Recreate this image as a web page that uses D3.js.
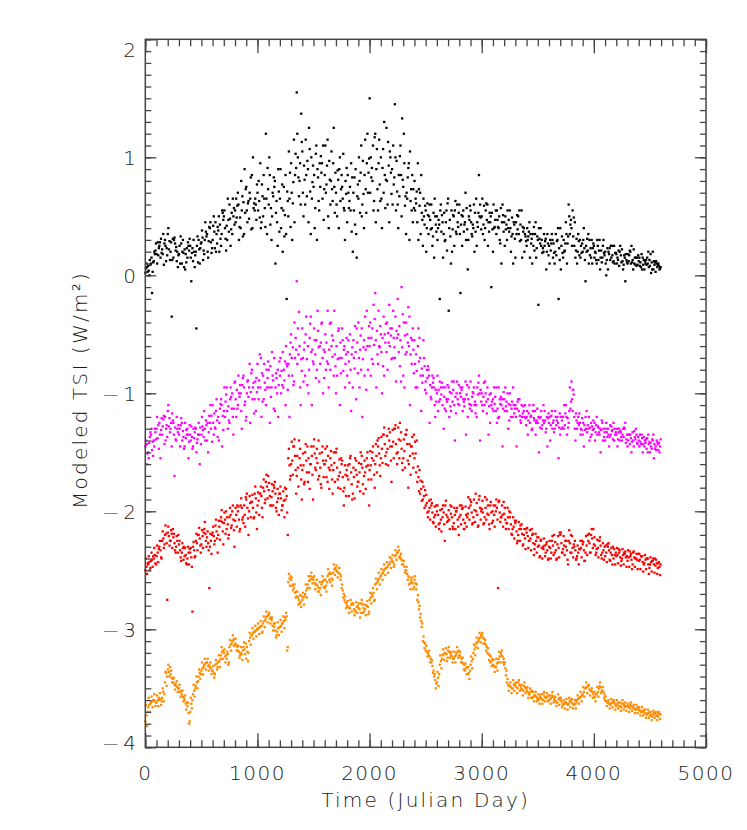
<!DOCTYPE html>
<html><head><meta charset="utf-8">
<script src="https://cdn.jsdelivr.net/npm/d3@7"></script>
<style>
body{margin:0;background:#fff;}
text{font-family:"DejaVu Sans",sans-serif;font-weight:200;fill:#1a1a1a;}
</style></head>
<body>
<svg id="chart" width="747" height="830"></svg>
<script>
// ---- data (Julian day sampled every 25 days, values in W/m^2) ----
const stepDays = 25;
const xTicks = [0, 1000, 2000, 3000, 4000, 5000];
const yTicks = [-4, -3, -2, -1, 0, 1, 2];
const xLabel = "Time (Julian Day)";
const yLabel = "Modeled TSI (W/m²)";

const blackA = [
0.02,0.08,0.10,0.12,0.18,0.25,0.22,0.30,
0.35,0.20,0.15,0.24,0.18,0.10,0.22,0.15,
0.25,0.12,0.20,0.30,0.28,0.18,0.35,0.40,
0.30,0.45,0.38,0.25,0.50,0.42,0.60,0.35,
0.55,0.70,0.40,0.62,0.75,0.48,0.85,0.55,
0.70,0.95,0.50,1.20,0.60,0.30,0.75,0.45,
0.65,0.20,0.85,0.50,0.95,1.15,1.55,0.80,
1.05,0.60,0.90,0.35,0.75,1.10,0.55,0.95,
0.85,1.15,0.60,0.95,0.70,0.40,0.85,0.55,
0.45,0.75,0.20,0.90,0.65,1.10,0.40,0.95,
1.50,0.80,1.20,0.55,1.00,0.70,1.25,0.45,
0.90,1.45,0.60,1.10,0.75,0.35,0.95,0.55,
0.80,0.45,0.70,0.25,0.55,0.35,0.60,0.15,
0.50,-0.20,0.45,0.30,0.65,0.10,0.50,0.35,
0.60,0.25,0.45,0.05,0.55,0.40,0.65,0.85,
0.50,0.30,0.60,0.45,0.20,0.55,0.40,0.10,
0.45,0.30,0.55,0.35,0.15,0.50,0.30,0.40,
0.25,0.45,0.10,0.35,0.30,0.40,0.20,0.05,
0.25,0.35,0.10,0.30,0.40,0.15,0.45,0.60,
0.40,0.25,0.10,0.30,0.20,-0.05,0.35,0.15,
0.25,0.10,0.30,0.15,0.20,0.05,0.25,0.12,
0.18,0.08,0.22,0.15,0.10,0.20,0.05,0.15,
0.12,0.18,0.05,0.15,0.08,0.20,0.03,0.10];
const blackB = [
0.06,0.04,0.15,0.20,0.10,0.28,0.18,0.25,
0.40,0.28,0.30,0.12,0.25,0.20,0.05,0.28,
0.15,0.30,-0.45,0.22,0.38,0.30,0.20,0.45,
0.42,0.20,0.50,0.35,0.55,0.30,0.48,0.65,
0.45,0.60,0.80,0.35,0.55,0.70,0.40,0.65,
0.55,0.40,0.85,0.65,1.00,0.50,0.80,0.25,
0.90,0.55,0.35,1.05,0.70,0.45,1.20,0.95,
0.70,1.15,0.45,1.00,0.85,0.30,0.95,0.65,
1.10,0.50,0.80,1.25,0.60,0.90,0.75,0.30,
0.85,0.55,0.70,0.35,1.00,0.50,0.85,1.20,
0.70,1.10,0.45,0.95,0.65,1.30,0.80,1.05,
0.60,1.00,0.40,0.85,1.20,0.70,0.30,0.85,
0.55,0.95,0.35,0.65,0.20,0.50,0.40,0.65,
0.30,0.55,0.15,0.45,-0.30,0.55,0.25,0.60,
0.35,0.50,0.70,0.30,0.45,0.60,0.25,0.50,
0.65,0.40,0.25,0.50,0.60,0.35,0.50,0.45,
0.25,0.55,0.40,0.10,0.45,0.35,0.55,0.20,
0.40,0.15,0.35,0.45,-0.25,0.25,0.35,0.20,
0.10,0.30,0.20,0.40,0.05,0.30,0.35,0.50,
0.25,0.45,0.20,0.15,0.30,0.25,0.10,0.30,
0.15,0.30,0.05,0.25,0.10,0.20,0.15,0.25,
0.10,0.20,0.12,-0.05,0.18,0.10,0.22,0.08,
0.15,0.05,0.12,0.10,0.18,0.05,0.12,0.08];
const blackC = [
0.10,0.00,-0.15,0.18,0.28,0.15,0.35,0.12,
0.22,-0.35,0.32,0.20,0.10,0.30,0.18,0.25,
-0.05,0.20,0.25,0.10,0.32,0.45,0.15,0.28,
0.50,0.35,0.20,0.55,0.40,0.65,0.25,0.50,
0.65,0.30,0.55,0.90,0.45,0.65,1.00,0.60,
0.80,0.45,0.65,0.35,0.85,0.70,0.10,0.90,
0.40,0.75,-0.20,0.65,0.30,0.85,1.00,0.60,
0.50,0.85,1.25,0.65,0.40,0.90,0.75,1.10,
0.70,0.40,1.05,0.75,0.50,1.00,0.65,0.80,
0.70,0.95,0.55,0.15,0.80,0.60,1.15,0.70,
1.00,0.55,0.90,1.15,0.40,0.85,0.60,1.00,
1.10,0.55,0.85,0.50,0.95,0.65,1.05,0.45,
0.65,0.30,0.85,0.50,0.40,0.60,0.25,0.50,
0.40,0.60,0.35,0.55,0.40,0.20,0.55,0.45,
-0.15,0.55,0.30,0.50,0.35,0.20,0.45,0.60,
0.35,0.55,0.45,-0.10,0.40,0.55,0.30,0.60,
0.50,0.40,0.20,0.45,0.35,0.55,0.15,0.35,
0.30,0.35,0.25,0.15,0.40,0.30,0.25,0.35,
0.30,0.15,0.35,-0.20,0.25,0.20,0.10,0.35,
0.55,0.15,0.35,0.25,0.40,0.20,0.30,0.10,
0.20,0.25,0.15,0.30,0.00,0.18,0.25,0.10,
0.15,0.25,0.05,0.18,0.12,0.25,0.10,0.15,
0.08,0.15,0.10,0.20,0.02,0.12,0.10,0.05];
const blackD = [
0.07,0.13,0.03,0.21,0.17,0.31,0.09,0.23,
0.29,0.13,0.27,0.07,0.33,0.19,0.11,0.21,
0.19,0.07,0.33,0.23,0.13,0.37,0.29,0.19,
0.37,0.27,0.43,0.53,0.31,0.47,0.39,0.57,
0.49,0.41,0.67,0.53,0.61,0.83,0.57,0.47,
0.63,0.77,0.57,0.91,0.43,0.67,0.53,0.71,
0.57,0.33,0.71,0.87,0.61,1.03,0.83,1.37,
0.93,0.67,1.07,0.79,0.57,0.83,1.01,0.47,
0.77,0.97,0.73,0.53,0.89,0.63,1.03,0.69,
0.57,0.37,0.83,0.67,0.53,0.97,0.73,0.87,
0.83,0.63,1.07,0.77,0.91,0.57,1.13,0.87,
0.77,0.97,0.67,1.33,0.59,0.83,0.63,0.73,
0.61,0.73,0.53,0.43,0.61,0.47,0.33,0.43,
0.47,0.37,0.53,0.21,0.47,0.39,0.63,0.41,
0.43,0.37,0.57,0.47,0.33,0.53,0.41,0.49,
0.43,0.61,0.37,0.53,0.41,0.47,0.27,0.51,
0.39,0.47,0.33,0.43,0.51,0.29,0.41,0.33,
0.33,0.27,0.41,0.23,0.31,0.19,0.29,0.27,
0.21,0.27,0.17,0.23,0.33,0.21,0.27,0.43,
0.33,0.21,0.29,0.19,0.23,0.31,0.17,0.23,
0.19,0.13,0.21,0.19,0.13,0.23,0.17,0.19,
0.13,0.17,0.09,0.13,0.17,0.11,0.15,0.09,
0.11,0.09,0.13,0.07,0.11,0.09,0.07,0.06];
const blackE = [
0.03,0.09,0.11,0.27,0.23,0.19,0.27,0.17,
0.13,0.31,0.21,0.17,0.27,0.07,0.23,0.31,
0.23,0.17,0.11,0.27,0.21,0.33,0.41,0.23,
0.23,0.41,0.31,0.47,0.21,0.37,0.53,0.43,
0.59,0.49,0.33,0.73,0.63,0.39,0.61,0.77,
0.49,0.67,0.41,0.73,0.57,0.83,0.63,0.37,
0.77,0.51,0.63,0.41,0.79,0.91,0.67,1.13,
0.81,0.97,0.71,0.93,1.03,0.63,0.87,0.73,
0.93,0.81,0.63,0.87,0.81,0.73,0.57,0.91,
0.63,0.83,0.43,0.77,0.87,0.69,0.53,0.99,
0.91,1.17,0.73,0.63,1.07,0.81,0.93,0.69,
0.83,0.71,1.01,0.81,0.67,0.91,0.73,0.57,
0.71,0.59,0.47,0.59,0.51,0.39,0.53,0.37,
0.43,0.51,0.29,0.61,0.33,0.51,0.37,0.53,
0.51,0.43,0.39,0.59,0.43,0.37,0.53,0.39,
0.59,0.47,0.53,0.39,0.47,0.41,0.57,0.37,
0.43,0.37,0.49,0.31,0.39,0.43,0.37,0.29,
0.37,0.31,0.21,0.33,0.27,0.23,0.31,0.17,
0.27,0.19,0.29,0.13,0.19,0.27,0.33,0.47,
0.49,0.31,0.17,0.27,0.13,0.21,0.23,0.27,
0.13,0.21,0.11,0.17,0.23,0.13,0.11,0.19,
0.21,0.11,0.17,0.11,0.21,0.13,0.09,0.17,
0.07,0.13,0.09,0.13,0.05,0.11,0.09,0.07];

const magentaA = [
-1.45,-1.50,-1.35,-1.40,-1.30,-1.25,-1.35,-1.20,
-1.15,-1.30,-1.25,-1.40,-1.35,-1.25,-1.45,-1.30,
-1.35,-1.45,-1.30,-1.25,-1.35,-1.15,-1.40,-1.25,
-1.10,-1.30,-1.20,-1.05,-1.15,-0.95,-1.25,-1.00,
-0.90,-1.10,-1.00,-0.85,-1.20,-0.95,-0.80,-1.05,
-0.75,-0.95,-0.85,-1.10,-0.80,-0.95,-0.70,-1.00,
-0.85,-0.65,-1.10,-0.75,-0.50,-0.90,-0.05,-0.60,
-0.45,-0.85,-0.60,-0.35,-0.75,-0.55,-0.90,-0.40,
-0.65,-0.30,-0.80,-0.55,-1.00,-0.45,-0.70,-0.60,
-0.85,-0.50,-0.95,-0.65,-0.40,-0.80,-0.55,-0.30,
-0.60,-0.45,-0.15,-0.75,-0.50,-0.35,-0.65,-0.25,
-0.45,-0.70,-0.20,-0.55,-0.85,-0.40,-0.60,-0.75,
-0.55,-0.95,-0.70,-0.85,-0.90,-0.80,-1.05,-0.95,
-1.00,-0.90,-1.10,-0.95,-1.05,-1.15,-0.90,-1.00,
-1.10,-0.95,-1.05,-1.20,-0.90,-1.00,-1.10,-0.85,
-1.00,-1.10,-0.95,-1.25,-1.05,-1.15,-0.95,-1.10,
-1.05,-1.15,-1.00,-1.20,-1.10,-1.05,-1.25,-1.15,
-1.20,-1.10,-1.30,-1.15,-1.25,-1.20,-1.10,-1.30,
-1.25,-1.15,-1.30,-1.20,-1.35,-1.20,-1.10,-1.25,
-0.90,-1.20,-1.30,-1.25,-1.35,-1.20,-1.30,-1.25,
-1.30,-1.20,-1.35,-1.25,-1.40,-1.30,-1.35,-1.25,
-1.35,-1.30,-1.40,-1.30,-1.45,-1.35,-1.40,-1.30,
-1.40,-1.35,-1.45,-1.38,-1.50,-1.40,-1.45,-1.48];
const magentaB = [
-1.40,-1.55,-1.30,-1.45,-1.20,-1.35,-1.28,-1.40,
-1.10,-1.25,-1.35,-1.20,-1.30,-1.40,-1.25,-1.35,
-1.40,-1.30,-1.50,-1.35,-1.20,-1.30,-1.25,-1.10,
-1.25,-1.15,-1.40,-1.10,-0.95,-1.15,-1.05,-1.20,
-1.05,-0.85,-1.15,-0.95,-1.00,-0.75,-1.05,-0.90,
-0.95,-0.70,-1.05,-0.80,-0.95,-0.65,-1.15,-0.80,
-0.70,-0.95,-0.60,-0.85,-0.70,-0.40,-0.75,-0.95,
-0.70,-0.50,-1.00,-0.65,-0.45,-0.80,-0.60,-0.70,
-0.50,-0.75,-0.40,-0.85,-0.60,-0.70,-0.45,-0.95,
-0.65,-0.80,-0.55,-1.05,-0.70,-0.45,-0.85,-0.60,
-0.40,-0.75,-0.55,-0.30,-0.65,-0.85,-0.40,-0.60,
-0.70,-0.35,-0.50,-0.90,-0.40,-0.65,-0.35,-0.55,
-0.75,-0.60,-0.85,-0.55,-1.00,-0.85,-0.95,-1.10,
-0.85,-1.05,-0.95,-1.15,-0.95,-1.00,-1.10,-0.90,
-1.00,-1.15,-0.90,-1.05,-1.10,-0.95,-1.20,-1.00,
-1.10,-0.90,-1.05,-1.00,-1.15,-0.95,-1.20,-1.05,
-1.15,-1.00,-1.10,-0.95,-1.20,-1.15,-1.10,-1.20,
-1.15,-1.25,-1.15,-1.35,-1.20,-1.15,-1.25,-1.20,
-1.20,-1.30,-1.15,-1.25,-1.20,-1.30,-1.20,-1.15,
-1.05,-1.30,-1.25,-1.35,-1.25,-1.30,-1.20,-1.35,
-1.25,-1.35,-1.30,-1.40,-1.30,-1.35,-1.28,-1.40,
-1.30,-1.40,-1.35,-1.25,-1.40,-1.38,-1.45,-1.35,
-1.45,-1.38,-1.40,-1.50,-1.42,-1.35,-1.48,-1.42];
const magentaC = [
-1.60,-1.42,-1.48,-1.30,-1.38,-1.55,-1.22,-1.30,
-1.28,-1.45,-1.70,-1.30,-1.45,-1.32,-1.38,-1.55,
-1.28,-1.38,-1.42,-1.60,-1.28,-1.40,-1.50,-1.30,
-1.35,-1.05,-1.25,-1.45,-1.20,-1.30,-0.95,-1.35,
-1.20,-1.00,-1.30,-1.10,-0.90,-1.25,-0.95,-1.15,
-1.05,-1.20,-0.75,-0.95,-1.25,-0.85,-0.95,-1.20,
-1.00,-0.80,-0.75,-1.20,-0.85,-0.70,-0.45,-1.10,
-0.90,-0.35,-0.80,-1.10,-0.55,-0.30,-0.75,-1.00,
-0.80,-0.95,-0.60,-0.30,-0.85,-1.10,-0.55,-0.75,
-0.55,-1.15,-0.70,-0.45,-0.95,-1.20,-0.35,-0.80,
-0.85,-0.25,-0.95,-0.60,-1.00,-0.50,-0.80,-0.45,
-0.30,-0.90,-0.65,-0.10,-0.95,-0.50,-1.10,-0.45,
-0.95,-0.45,-1.15,-0.70,-0.80,-1.25,-0.85,-1.20,
-1.15,-0.95,-1.30,-1.05,-1.20,-0.90,-1.40,-1.05,
-0.95,-1.05,-1.35,-0.95,-1.15,-1.10,-0.95,-1.40,
-1.15,-1.00,-1.35,-1.10,-0.95,-1.25,-1.05,-1.45,
-0.95,-1.30,-1.20,-1.10,-1.45,-1.05,-1.20,-1.10,
-1.35,-1.20,-1.10,-1.25,-1.50,-1.30,-1.15,-1.45,
-1.40,-1.25,-1.20,-1.55,-1.30,-1.10,-1.35,-0.95,
-1.15,-1.40,-1.20,-1.30,-1.45,-1.15,-1.40,-1.28,
-1.40,-1.28,-1.50,-1.30,-1.25,-1.45,-1.32,-1.30,
-1.45,-1.32,-1.30,-1.42,-1.35,-1.50,-1.32,-1.42,
-1.35,-1.50,-1.42,-1.35,-1.45,-1.55,-1.40,-1.50];
const magentaD = [
-1.43,-1.37,-1.41,-1.33,-1.27,-1.31,-1.19,-1.27,
-1.21,-1.17,-1.29,-1.33,-1.27,-1.37,-1.31,-1.41,
-1.37,-1.33,-1.39,-1.29,-1.31,-1.23,-1.33,-1.19,
-1.17,-1.23,-1.13,-1.19,-1.07,-1.11,-1.03,-1.13,
-0.97,-1.03,-0.93,-1.07,-0.89,-0.99,-0.91,-0.87,
-0.89,-0.83,-0.91,-0.87,-0.77,-0.89,-0.83,-0.93,
-0.81,-0.89,-0.77,-0.67,-0.61,-0.53,-0.67,-0.71,
-0.63,-0.71,-0.53,-0.63,-0.67,-0.47,-0.57,-0.63,
-0.57,-0.63,-0.51,-0.67,-0.71,-0.57,-0.81,-0.67,
-0.73,-0.67,-0.79,-0.57,-0.63,-0.71,-0.63,-0.53,
-0.53,-0.59,-0.47,-0.61,-0.53,-0.57,-0.49,-0.51,
-0.53,-0.47,-0.43,-0.61,-0.51,-0.57,-0.67,-0.63,
-0.67,-0.73,-0.79,-0.77,-0.87,-0.93,-0.91,-0.97,
-0.97,-1.01,-1.03,-1.07,-0.99,-1.07,-1.03,-1.09,
-1.03,-1.07,-1.01,-1.09,-1.03,-1.07,-1.01,-0.97,
-1.03,-1.07,-1.11,-1.07,-1.09,-1.13,-1.09,-1.13,
-1.11,-1.09,-1.13,-1.17,-1.13,-1.19,-1.17,-1.21,
-1.23,-1.19,-1.21,-1.23,-1.21,-1.27,-1.23,-1.21,
-1.27,-1.23,-1.27,-1.29,-1.23,-1.27,-1.21,-1.13,
-0.97,-1.17,-1.27,-1.31,-1.27,-1.33,-1.29,-1.31,
-1.33,-1.29,-1.31,-1.37,-1.33,-1.37,-1.31,-1.35,
-1.39,-1.33,-1.37,-1.39,-1.35,-1.41,-1.37,-1.43,
-1.41,-1.43,-1.39,-1.43,-1.47,-1.43,-1.41,-1.45];
const magentaE = [
-1.51,-1.33,-1.53,-1.39,-1.47,-1.21,-1.43,-1.37,
-1.33,-1.23,-1.39,-1.27,-1.21,-1.47,-1.35,-1.27,
-1.47,-1.29,-1.35,-1.43,-1.37,-1.27,-1.19,-1.41,
-1.29,-1.37,-1.09,-1.31,-1.01,-1.23,-1.13,-0.91,
-1.13,-0.93,-0.87,-1.23,-1.03,-0.83,-1.17,-0.99,
-0.67,-1.07,-0.97,-0.73,-1.03,-1.13,-0.87,-0.73,
-0.93,-0.73,-0.97,-0.57,-0.93,-0.63,-0.31,-0.81,
-0.57,-0.93,-0.41,-0.73,-0.87,-0.61,-0.41,-0.87,
-0.73,-0.41,-0.69,-0.77,-0.47,-0.83,-0.63,-0.53,
-0.91,-0.61,-0.43,-0.83,-0.51,-0.61,-0.97,-0.43,
-0.71,-0.37,-0.67,-0.43,-0.77,-0.41,-0.57,-0.71,
-0.61,-0.53,-0.77,-0.33,-0.67,-0.27,-0.53,-0.83,
-0.81,-0.53,-0.91,-0.97,-0.77,-1.03,-0.87,-1.07,
-1.07,-0.91,-1.13,-0.93,-1.11,-0.97,-1.17,-0.93,
-0.97,-1.11,-0.93,-1.13,-0.99,-1.17,-0.91,-1.07,
-0.91,-1.17,-1.01,-1.13,-1.03,-1.21,-1.03,-0.99,
-1.07,-1.23,-1.07,-1.13,-1.07,-1.23,-1.11,-1.27,
-1.17,-1.31,-1.23,-1.13,-1.29,-1.23,-1.33,-1.17,
-1.19,-1.33,-1.23,-1.17,-1.29,-1.17,-1.29,-1.07,
-1.01,-1.23,-1.17,-1.21,-1.31,-1.27,-1.37,-1.23,
-1.27,-1.33,-1.23,-1.33,-1.37,-1.27,-1.39,-1.33,
-1.33,-1.37,-1.29,-1.35,-1.43,-1.33,-1.39,-1.37,
-1.43,-1.37,-1.47,-1.41,-1.39,-1.47,-1.43,-1.39];

const redA = [
-2.50,-2.45,-2.42,-2.40,-2.38,-2.30,-2.25,-2.20,
-2.18,-2.25,-2.22,-2.30,-2.28,-2.35,-2.38,-2.40,
-2.35,-2.30,-2.25,-2.20,-2.28,-2.15,-2.22,-2.30,
-2.18,-2.12,-2.20,-2.05,-2.10,-2.15,-2.05,-2.00,
-2.08,-2.00,-1.95,-2.10,-1.90,-2.00,-1.92,-1.85,
-1.95,-1.85,-1.80,-1.75,-1.82,-1.88,-1.80,-1.92,
-1.85,-1.95,-1.90,-1.55,-1.60,-1.45,-1.70,-1.55,
-1.65,-1.50,-1.75,-1.60,-1.45,-1.55,-1.70,-1.50,
-1.60,-1.75,-1.55,-1.65,-1.50,-1.70,-1.60,-1.80,
-1.70,-1.55,-1.85,-1.65,-1.75,-1.60,-1.70,-1.55,
-1.65,-1.50,-1.60,-1.45,-1.55,-1.35,-1.50,-1.40,
-1.45,-1.30,-1.50,-1.40,-1.55,-1.35,-1.60,-1.45,
-1.55,-1.75,-1.85,-1.90,-1.95,-2.00,-1.95,-2.05,
-2.00,-2.10,-2.05,-1.95,-2.08,-2.02,-2.10,-2.00,
-2.05,-1.98,-2.10,-2.02,-1.95,-2.05,-2.00,-1.90,
-1.98,-2.05,-2.02,-1.95,-2.08,-2.00,-1.92,-2.05,
-2.02,-2.10,-2.05,-2.15,-2.10,-2.20,-2.15,-2.20,
-2.18,-2.25,-2.20,-2.28,-2.30,-2.25,-2.32,-2.28,
-2.30,-2.25,-2.35,-2.28,-2.20,-2.32,-2.30,-2.25,
-2.35,-2.30,-2.38,-2.32,-2.28,-2.35,-2.25,-2.20,
-2.28,-2.32,-2.25,-2.35,-2.38,-2.30,-2.35,-2.40,
-2.38,-2.35,-2.40,-2.36,-2.42,-2.38,-2.35,-2.40,
-2.42,-2.38,-2.44,-2.40,-2.45,-2.42,-2.46,-2.44];
const redB = [
-2.44,-2.48,-2.38,-2.45,-2.32,-2.40,-2.28,-2.75,
-2.25,-2.15,-2.35,-2.20,-2.42,-2.30,-2.45,-2.32,
-2.85,-2.38,-2.20,-2.35,-2.18,-2.30,-2.65,-2.20,
-2.25,-2.35,-2.08,-2.28,-2.00,-2.20,-2.12,-2.30,
-1.95,-2.15,-2.05,-1.88,-2.20,-1.92,-2.05,-2.15,
-1.85,-2.05,-1.90,-1.70,-1.95,-1.78,-2.00,-1.85,
-1.95,-1.80,-2.20,-1.70,-1.45,-1.85,-1.40,-1.90,
-1.75,-1.45,-1.60,-1.90,-1.65,-1.40,-1.80,-1.60,
-1.45,-1.65,-1.85,-1.50,-1.80,-1.55,-1.95,-1.65,
-1.60,-1.90,-1.55,-1.75,-1.50,-1.85,-1.62,-1.95,
-1.55,-1.80,-1.40,-1.70,-1.35,-1.60,-1.30,-1.75,
-1.30,-1.60,-1.25,-1.65,-1.35,-1.80,-1.45,-1.35,
-1.40,-1.65,-1.75,-1.82,-2.05,-1.90,-2.10,-1.95,
-2.15,-1.98,-2.25,-2.05,-1.95,-2.15,-2.00,-2.20,
-1.95,-2.15,-2.05,-1.90,-2.10,-1.85,-2.12,-2.00,
-2.10,-1.90,-2.15,-2.00,-1.95,-2.65,-2.05,-1.92,
-2.10,-2.00,-2.20,-2.08,-2.25,-2.12,-2.28,-2.15,
-2.25,-2.15,-2.32,-2.22,-2.38,-2.30,-2.35,-2.40,
-2.35,-2.20,-2.40,-2.18,-2.35,-2.25,-2.45,-2.20,
-2.28,-2.40,-2.32,-2.25,-2.42,-2.20,-2.35,-2.15,
-2.35,-2.25,-2.40,-2.30,-2.28,-2.42,-2.30,-2.35,
-2.32,-2.42,-2.35,-2.38,-2.34,-2.45,-2.40,-2.36,
-2.38,-2.45,-2.40,-2.48,-2.42,-2.40,-2.48,-2.45];
const redC = [
-2.47,-2.43,-2.41,-2.37,-2.35,-2.33,-2.23,-2.19,
-2.21,-2.19,-2.27,-2.25,-2.33,-2.31,-2.37,-2.35,
-2.39,-2.33,-2.27,-2.23,-2.21,-2.19,-2.27,-2.25,
-2.21,-2.17,-2.13,-2.09,-2.07,-2.11,-2.03,-2.07,
-2.03,-2.07,-1.97,-2.03,-1.97,-1.93,-1.97,-1.89,
-1.91,-1.87,-1.83,-1.79,-1.87,-1.83,-1.85,-1.89,
-1.89,-1.91,-1.87,-1.61,-1.57,-1.53,-1.63,-1.61,
-1.61,-1.57,-1.67,-1.53,-1.51,-1.59,-1.63,-1.57,
-1.57,-1.63,-1.61,-1.59,-1.63,-1.67,-1.71,-1.69,
-1.73,-1.67,-1.71,-1.69,-1.67,-1.63,-1.67,-1.61,
-1.61,-1.57,-1.53,-1.51,-1.47,-1.43,-1.47,-1.45,
-1.41,-1.43,-1.39,-1.47,-1.49,-1.43,-1.53,-1.51,
-1.51,-1.71,-1.81,-1.87,-1.93,-1.97,-2.01,-2.03,
-2.03,-2.07,-2.01,-2.03,-2.07,-2.05,-2.03,-2.07,
-2.03,-2.07,-2.03,-1.97,-2.01,-1.99,-2.03,-1.97,
-2.01,-1.97,-2.03,-2.01,-2.03,-1.97,-2.01,-2.03,
-2.07,-2.05,-2.11,-2.13,-2.17,-2.15,-2.19,-2.23,
-2.21,-2.23,-2.27,-2.25,-2.29,-2.31,-2.29,-2.33,
-2.31,-2.29,-2.33,-2.31,-2.27,-2.29,-2.33,-2.27,
-2.31,-2.33,-2.35,-2.31,-2.33,-2.29,-2.27,-2.23,
-2.29,-2.31,-2.29,-2.33,-2.35,-2.33,-2.37,-2.37,
-2.37,-2.39,-2.37,-2.39,-2.39,-2.41,-2.39,-2.41,
-2.41,-2.43,-2.41,-2.45,-2.43,-2.45,-2.44,-2.47];
const redD = [
-2.40,-2.38,-2.35,-2.31,-2.29,-2.25,-2.17,-2.12,
-2.13,-2.16,-2.19,-2.21,-2.25,-2.27,-2.31,-2.30,
-2.31,-2.26,-2.19,-2.14,-2.16,-2.09,-2.17,-2.19,
-2.13,-2.07,-2.08,-1.99,-2.01,-2.05,-1.97,-1.95,
-1.97,-1.96,-1.89,-1.95,-1.85,-1.87,-1.86,-1.79,
-1.84,-1.79,-1.73,-1.69,-1.76,-1.77,-1.75,-1.81,
-1.79,-1.83,-1.81,-1.47,-1.41,-1.39,-1.53,-1.47,
-1.51,-1.43,-1.55,-1.45,-1.39,-1.47,-1.51,-1.45,
-1.47,-1.53,-1.49,-1.50,-1.47,-1.56,-1.57,-1.61,
-1.61,-1.53,-1.63,-1.57,-1.59,-1.53,-1.57,-1.50,
-1.49,-1.45,-1.43,-1.38,-1.37,-1.29,-1.36,-1.33,
-1.31,-1.27,-1.29,-1.33,-1.39,-1.31,-1.43,-1.37,
-1.41,-1.62,-1.74,-1.79,-1.86,-1.91,-1.93,-1.96,
-1.95,-1.99,-1.95,-1.91,-1.99,-1.96,-1.97,-1.97,
-1.95,-1.97,-1.96,-1.88,-1.92,-1.90,-1.93,-1.87,
-1.91,-1.88,-1.95,-1.92,-1.95,-1.90,-1.91,-1.95,
-1.97,-1.97,-2.01,-2.05,-2.08,-2.09,-2.11,-2.15,
-2.14,-2.16,-2.19,-2.19,-2.22,-2.24,-2.23,-2.26,
-2.25,-2.21,-2.26,-2.21,-2.18,-2.21,-2.25,-2.16,
-2.21,-2.25,-2.29,-2.25,-2.26,-2.21,-2.19,-2.15,
-2.22,-2.24,-2.22,-2.27,-2.29,-2.27,-2.31,-2.32,
-2.31,-2.33,-2.32,-2.34,-2.33,-2.36,-2.34,-2.36,
-2.36,-2.38,-2.37,-2.40,-2.39,-2.40,-2.41,-2.43];
const redE = [
-2.53,-2.50,-2.47,-2.44,-2.43,-2.39,-2.31,-2.27,
-2.29,-2.31,-2.33,-2.35,-2.39,-2.41,-2.44,-2.45,
-2.47,-2.39,-2.33,-2.29,-2.31,-2.25,-2.33,-2.36,
-2.28,-2.23,-2.24,-2.17,-2.19,-2.23,-2.14,-2.16,
-2.13,-2.17,-2.07,-2.13,-2.06,-2.05,-2.06,-2.01,
-2.03,-1.97,-1.93,-1.89,-1.95,-1.95,-1.97,-2.03,
-1.99,-2.05,-2.01,-1.73,-1.69,-1.65,-1.79,-1.73,
-1.77,-1.67,-1.81,-1.69,-1.63,-1.73,-1.77,-1.71,
-1.71,-1.81,-1.73,-1.75,-1.73,-1.81,-1.83,-1.87,
-1.87,-1.77,-1.89,-1.79,-1.83,-1.77,-1.81,-1.73,
-1.73,-1.69,-1.67,-1.61,-1.59,-1.53,-1.61,-1.57,
-1.55,-1.51,-1.55,-1.59,-1.63,-1.57,-1.69,-1.63,
-1.67,-1.83,-1.91,-1.97,-2.01,-2.07,-2.09,-2.13,
-2.11,-2.17,-2.11,-2.09,-2.15,-2.13,-2.15,-2.13,
-2.11,-2.15,-2.13,-2.07,-2.11,-2.09,-2.13,-2.07,
-2.11,-2.07,-2.11,-2.10,-2.13,-2.07,-2.09,-2.13,
-2.15,-2.15,-2.19,-2.23,-2.27,-2.25,-2.29,-2.32,
-2.31,-2.33,-2.37,-2.35,-2.39,-2.40,-2.38,-2.41,
-2.40,-2.37,-2.41,-2.39,-2.35,-2.37,-2.41,-2.35,
-2.39,-2.41,-2.45,-2.39,-2.42,-2.37,-2.35,-2.31,
-2.37,-2.39,-2.37,-2.41,-2.43,-2.41,-2.45,-2.45,
-2.44,-2.46,-2.45,-2.47,-2.47,-2.49,-2.47,-2.49,
-2.49,-2.51,-2.49,-2.53,-2.51,-2.52,-2.53,-2.54];

const orangeA = [
-3.78,-3.66,-3.62,-3.60,-3.62,-3.60,-3.58,-3.45,
-3.34,-3.38,-3.45,-3.48,-3.50,-3.55,-3.60,-3.65,
-3.70,-3.55,-3.48,-3.40,-3.35,-3.30,-3.28,-3.32,
-3.35,-3.30,-3.28,-3.22,-3.20,-3.25,-3.15,-3.10,
-3.12,-3.18,-3.20,-3.15,-3.25,-3.10,-3.05,-3.02,
-3.00,-2.98,-2.95,-2.90,-2.88,-2.92,-2.98,-3.02,
-2.98,-2.95,-2.92,-2.60,-2.58,-2.65,-2.72,-2.78,
-2.75,-2.70,-2.62,-2.55,-2.58,-2.62,-2.68,-2.60,
-2.65,-2.55,-2.60,-2.52,-2.50,-2.48,-2.65,-2.75,
-2.80,-2.82,-2.78,-2.85,-2.82,-2.78,-2.85,-2.80,
-2.75,-2.72,-2.62,-2.58,-2.55,-2.50,-2.48,-2.45,
-2.42,-2.38,-2.35,-2.40,-2.45,-2.50,-2.62,-2.60,
-2.58,-2.75,-2.90,-3.10,-3.18,-3.22,-3.28,-3.40,
-3.45,-3.30,-3.22,-3.20,-3.18,-3.22,-3.25,-3.20,
-3.22,-3.28,-3.35,-3.38,-3.30,-3.20,-3.12,-3.08,
-3.05,-3.12,-3.20,-3.28,-3.30,-3.32,-3.25,-3.22,
-3.30,-3.45,-3.48,-3.50,-3.48,-3.45,-3.50,-3.48,
-3.52,-3.55,-3.58,-3.56,-3.60,-3.58,-3.55,-3.58,
-3.60,-3.56,-3.58,-3.62,-3.60,-3.64,-3.62,-3.63,
-3.62,-3.64,-3.60,-3.58,-3.55,-3.50,-3.48,-3.52,
-3.58,-3.55,-3.48,-3.52,-3.60,-3.62,-3.63,-3.62,
-3.64,-3.65,-3.63,-3.66,-3.65,-3.64,-3.66,-3.68,
-3.68,-3.70,-3.71,-3.72,-3.73,-3.72,-3.73,-3.71];
const orangeB = [
-3.70,-3.63,-3.60,-3.62,-3.58,-3.61,-3.55,-3.40,
-3.32,-3.42,-3.46,-3.50,-3.52,-3.58,-3.62,-3.78,
-3.60,-3.50,-3.44,-3.38,-3.32,-3.28,-3.30,-3.35,
-3.38,-3.32,-3.25,-3.18,-3.22,-3.28,-3.12,-3.08,
-3.15,-3.22,-3.18,-3.12,-3.20,-3.05,-3.02,-3.00,
-2.98,-3.02,-2.92,-2.88,-2.90,-2.95,-3.05,-2.98,
-2.95,-2.90,-3.15,-2.55,-2.62,-2.68,-2.75,-2.72,
-2.72,-2.65,-2.58,-2.56,-2.62,-2.65,-2.62,-2.58,
-2.60,-2.52,-2.58,-2.48,-2.52,-2.55,-2.70,-2.78,
-2.82,-2.78,-2.84,-2.80,-2.86,-2.82,-2.80,-2.85,
-2.70,-2.75,-2.60,-2.55,-2.52,-2.48,-2.45,-2.40,
-2.45,-2.35,-2.38,-2.42,-2.50,-2.55,-2.58,-2.64,
-2.62,-2.80,-2.95,-3.12,-3.20,-3.25,-3.35,-3.46,
-3.38,-3.25,-3.20,-3.24,-3.20,-3.25,-3.22,-3.18,
-3.25,-3.30,-3.32,-3.35,-3.25,-3.15,-3.10,-3.05,
-3.08,-3.15,-3.22,-3.25,-3.32,-3.28,-3.20,-3.25,
-3.35,-3.48,-3.50,-3.46,-3.50,-3.48,-3.52,-3.50,
-3.55,-3.52,-3.56,-3.58,-3.57,-3.60,-3.58,-3.56,
-3.58,-3.60,-3.62,-3.58,-3.63,-3.62,-3.64,-3.60,
-3.64,-3.62,-3.58,-3.56,-3.50,-3.48,-3.52,-3.55,
-3.55,-3.50,-3.52,-3.55,-3.62,-3.64,-3.61,-3.65,
-3.62,-3.66,-3.64,-3.65,-3.67,-3.66,-3.68,-3.66,
-3.70,-3.69,-3.72,-3.70,-3.74,-3.71,-3.74,-3.72];
const orangeC = [
-3.73,-3.64,-3.61,-3.61,-3.60,-3.59,-3.53,-3.37,
-3.36,-3.41,-3.47,-3.49,-3.53,-3.57,-3.63,-3.71,
-3.63,-3.52,-3.45,-3.37,-3.33,-3.29,-3.31,-3.33,
-3.37,-3.29,-3.27,-3.19,-3.23,-3.21,-3.13,-3.09,
-3.13,-3.19,-3.21,-3.17,-3.19,-3.07,-3.03,-3.01,
-2.99,-2.97,-2.93,-2.89,-2.91,-2.97,-3.01,-2.99,
-2.97,-2.93,-2.89,-2.57,-2.63,-2.69,-2.73,-2.77,
-2.73,-2.67,-2.59,-2.57,-2.61,-2.63,-2.65,-2.59,
-2.63,-2.53,-2.57,-2.49,-2.51,-2.53,-2.67,-2.77,
-2.81,-2.79,-2.83,-2.81,-2.83,-2.79,-2.83,-2.81,
-2.73,-2.69,-2.61,-2.57,-2.53,-2.49,-2.47,-2.43,
-2.43,-2.37,-2.33,-2.41,-2.47,-2.53,-2.61,-2.61,
-2.61,-2.77,-2.93,-3.11,-3.19,-3.23,-3.31,-3.43,
-3.41,-3.27,-3.21,-3.21,-3.19,-3.23,-3.23,-3.19,
-3.23,-3.29,-3.33,-3.37,-3.27,-3.17,-3.11,-3.07,
-3.07,-3.13,-3.21,-3.27,-3.31,-3.29,-3.23,-3.23,
-3.33,-3.47,-3.49,-3.47,-3.49,-3.47,-3.51,-3.49,
-3.53,-3.53,-3.57,-3.57,-3.59,-3.59,-3.57,-3.57,
-3.59,-3.57,-3.61,-3.59,-3.61,-3.63,-3.63,-3.61,
-3.63,-3.63,-3.59,-3.57,-3.53,-3.49,-3.51,-3.53,
-3.57,-3.53,-3.49,-3.53,-3.61,-3.63,-3.62,-3.63,
-3.63,-3.65,-3.63,-3.65,-3.66,-3.65,-3.67,-3.67,
-3.69,-3.69,-3.71,-3.71,-3.73,-3.71,-3.73,-3.72];
const orangeD = [
-3.64,-3.58,-3.57,-3.55,-3.56,-3.54,-3.50,-3.36,
-3.30,-3.35,-3.41,-3.44,-3.47,-3.52,-3.56,-3.62,
-3.58,-3.47,-3.40,-3.34,-3.28,-3.25,-3.25,-3.28,
-3.31,-3.26,-3.22,-3.15,-3.17,-3.19,-3.09,-3.05,
-3.08,-3.14,-3.15,-3.11,-3.15,-3.03,-2.99,-2.97,
-2.95,-2.93,-2.89,-2.85,-2.86,-2.90,-2.95,-2.94,
-2.92,-2.89,-2.86,-2.53,-2.56,-2.62,-2.68,-2.71,
-2.69,-2.62,-2.55,-2.52,-2.55,-2.58,-2.60,-2.55,
-2.58,-2.49,-2.53,-2.45,-2.46,-2.48,-2.62,-2.72,
-2.76,-2.75,-2.79,-2.77,-2.78,-2.75,-2.79,-2.76,
-2.69,-2.65,-2.57,-2.52,-2.49,-2.45,-2.43,-2.39,
-2.37,-2.33,-2.30,-2.36,-2.42,-2.47,-2.56,-2.56,
-2.55,-2.71,-2.87,-3.06,-3.14,-3.18,-3.26,-3.38,
-3.36,-3.22,-3.17,-3.16,-3.15,-3.19,-3.19,-3.15,
-3.19,-3.24,-3.29,-3.32,-3.23,-3.13,-3.07,-3.03,
-3.03,-3.09,-3.16,-3.23,-3.26,-3.25,-3.19,-3.18,
-3.28,-3.42,-3.45,-3.43,-3.45,-3.43,-3.47,-3.45,
-3.49,-3.50,-3.53,-3.53,-3.55,-3.55,-3.53,-3.54,
-3.56,-3.53,-3.57,-3.55,-3.58,-3.60,-3.59,-3.58,
-3.59,-3.60,-3.56,-3.53,-3.49,-3.45,-3.47,-3.50,
-3.53,-3.49,-3.45,-3.49,-3.57,-3.60,-3.59,-3.60,
-3.60,-3.62,-3.60,-3.62,-3.63,-3.62,-3.64,-3.64,
-3.66,-3.66,-3.68,-3.68,-3.70,-3.69,-3.70,-3.70];
const orangeE = [
-3.82,-3.70,-3.66,-3.65,-3.65,-3.64,-3.61,-3.48,
-3.40,-3.45,-3.51,-3.53,-3.57,-3.61,-3.68,-3.80,
-3.67,-3.57,-3.50,-3.42,-3.38,-3.34,-3.35,-3.38,
-3.41,-3.34,-3.32,-3.25,-3.28,-3.30,-3.18,-3.14,
-3.18,-3.24,-3.26,-3.21,-3.27,-3.13,-3.08,-3.06,
-3.04,-3.03,-2.98,-2.94,-2.95,-3.01,-3.07,-3.05,
-3.02,-2.99,-3.18,-2.63,-2.67,-2.73,-2.79,-2.81,
-2.79,-2.73,-2.65,-2.61,-2.66,-2.68,-2.71,-2.64,
-2.68,-2.58,-2.63,-2.54,-2.56,-2.58,-2.73,-2.82,
-2.86,-2.85,-2.88,-2.86,-2.90,-2.86,-2.88,-2.87,
-2.78,-2.76,-2.66,-2.62,-2.58,-2.54,-2.52,-2.48,
-2.47,-2.41,-2.39,-2.45,-2.52,-2.58,-2.66,-2.66,
-2.66,-2.83,-2.98,-3.16,-3.23,-3.28,-3.37,-3.50,
-3.48,-3.33,-3.26,-3.27,-3.24,-3.28,-3.28,-3.24,
-3.28,-3.34,-3.38,-3.42,-3.33,-3.22,-3.16,-3.11,
-3.12,-3.18,-3.26,-3.31,-3.36,-3.35,-3.28,-3.28,
-3.39,-3.52,-3.54,-3.52,-3.54,-3.52,-3.56,-3.54,
-3.58,-3.58,-3.61,-3.61,-3.63,-3.63,-3.61,-3.61,
-3.63,-3.62,-3.65,-3.64,-3.66,-3.67,-3.68,-3.66,
-3.67,-3.67,-3.63,-3.61,-3.57,-3.54,-3.56,-3.58,
-3.61,-3.57,-3.54,-3.58,-3.65,-3.67,-3.66,-3.68,
-3.67,-3.69,-3.68,-3.69,-3.70,-3.69,-3.71,-3.71,
-3.73,-3.73,-3.75,-3.75,-3.77,-3.75,-3.77,-3.76];

// series: colour + list of (sample set, day offset)
const seriesList = [
  {color:"#000000", sets:[[blackA,0],[blackB,5],[blackC,10],[blackD,15],[blackE,20]]},
  {color:"#ff00ff", sets:[[magentaA,0],[magentaB,5],[magentaC,10],[magentaD,15],[magentaE,20]]},
  {color:"#ff0000", sets:[[redA,0],[redD,5],[redC,10],[redE,15],[redB,20]]},
  {color:"#ff8c00", sets:[[orangeA,0],[orangeD,5],[orangeC,10],[orangeE,15],[orangeB,20]]}
];

// ---- layout ----
const L=145.3, R=706, T=39.3, B=747.3;
const x = d3.scaleLinear().domain([0,5000]).range([L,R]);
const y = d3.scaleLinear().domain([-4,2]).range([B,T]);
const svg = d3.select("#chart");

// points
const pts = svg.append("g");
seriesList.forEach(s=>{
  const data=[];
  s.sets.forEach(([vals,off])=>vals.forEach((v,i)=>data.push({d:off+i*stepDays,v})));
  pts.selectAll(null).data(data).enter().append("rect")
    .attr("x",p=>x(p.d)-1.1).attr("y",p=>y(p.v)-1.1)
    .attr("width",2.3).attr("height",2.3).attr("fill",s.color);
});

// axes
const axisColor="#444";
const minorX=d3.range(0,5001,100), minorY=d3.range(-40,21).map(k=>k/10);
function styleAxis(g){g.selectAll("path,line").attr("stroke",axisColor).attr("stroke-width",1.3);g.select(".domain").remove();}
svg.append("g").attr("transform",`translate(0,${B})`).call(d3.axisBottom(x).tickValues(minorX).tickSize(-7).tickFormat("")).call(styleAxis);
svg.append("g").attr("transform",`translate(0,${B})`).call(d3.axisBottom(x).tickValues(xTicks).tickSize(-14).tickFormat("")).call(styleAxis);
svg.append("g").attr("transform",`translate(0,${T})`).call(d3.axisTop(x).tickValues(minorX).tickSize(-7).tickFormat("")).call(styleAxis);
svg.append("g").attr("transform",`translate(0,${T})`).call(d3.axisTop(x).tickValues(xTicks).tickSize(-14).tickFormat("")).call(styleAxis);
svg.append("g").attr("transform",`translate(${L},0)`).call(d3.axisLeft(y).tickValues(minorY).tickSize(-6).tickFormat("")).call(styleAxis);
svg.append("g").attr("transform",`translate(${L},0)`).call(d3.axisLeft(y).tickValues(yTicks).tickSize(-11).tickFormat("")).call(styleAxis);
svg.append("g").attr("transform",`translate(${R},0)`).call(d3.axisRight(y).tickValues(minorY).tickSize(-6).tickFormat("")).call(styleAxis);
svg.append("g").attr("transform",`translate(${R},0)`).call(d3.axisRight(y).tickValues(yTicks).tickSize(-11).tickFormat("")).call(styleAxis);
svg.append("rect").attr("x",L).attr("y",T).attr("width",R-L).attr("height",B-T)
  .attr("fill","none").attr("stroke",axisColor).attr("stroke-width",1.5);

// tick labels
const fs=20;
svg.append("g").selectAll("text").data(xTicks).enter().append("text")
  .attr("x",d=>x(d)).attr("y",B+33).attr("text-anchor","middle")
  .attr("font-size",fs).attr("letter-spacing",1.5).text(d=>d);
svg.append("g").selectAll("text").data(yTicks).enter().append("text")
  .attr("x",136).attr("y",d=>{let yy=y(d)+8; if(d===2) yy+=10; if(d===-4) yy-=5; return yy;})
  .attr("text-anchor","end").attr("font-size",fs)
  .each(function(d){
    const t=d3.select(this);
    if(d<0){
      t.append("tspan").attr("font-size",15).attr("dy",-1.5).text("\u2014");
      t.append("tspan").attr("dx",5).attr("dy",1.5).text(Math.abs(d));
    } else t.text(d);
  });

// axis titles
svg.append("text").attr("x",(L+R)/2).attr("y",807).attr("text-anchor","middle")
  .attr("font-size",fs).attr("letter-spacing",2.2).text(xLabel);
svg.append("text").attr("transform",`translate(87,390) rotate(-90)`).attr("text-anchor","middle")
  .attr("font-size",fs).attr("letter-spacing",2.2).text(yLabel);
</script>
</body></html>
